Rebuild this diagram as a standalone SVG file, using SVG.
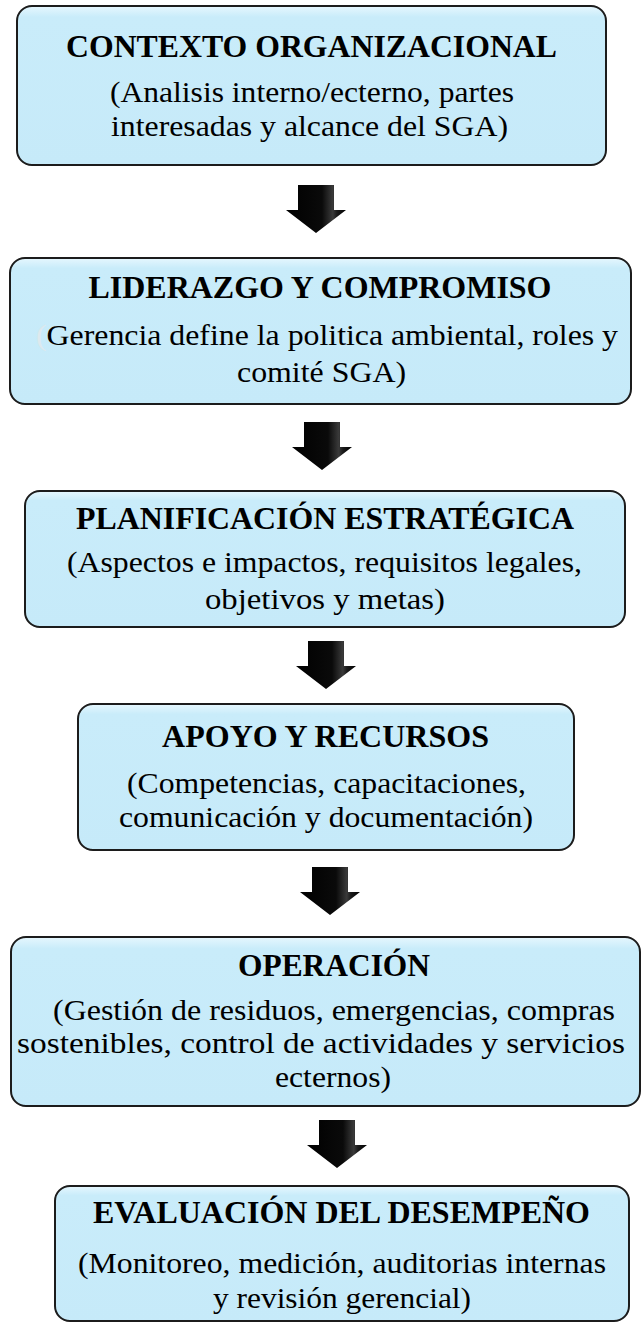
<svg xmlns="http://www.w3.org/2000/svg" width="642" height="1328" viewBox="0 0 642 1328">
<defs>
<linearGradient id="boxfill" x1="0" y1="0" x2="0" y2="1">
<stop offset="0" stop-color="#e6f7fe"/>
<stop offset="0.07" stop-color="#c9ecfa"/>
<stop offset="1" stop-color="#c6eaf9"/>
</linearGradient>
<linearGradient id="arrowfill" x1="0" y1="0" x2="1" y2="0">
<stop offset="0" stop-color="#000"/>
<stop offset="0.6" stop-color="#0a0a0a"/>
<stop offset="0.78" stop-color="#3a3a3a"/>
<stop offset="0.85" stop-color="#1a1a1a"/>
<stop offset="1" stop-color="#000"/>
</linearGradient>
<path id="arrow" d="M -18 0 H 18 V 25 H 30 L 0 48 L -30 25 H -18 Z"/>
</defs>
<style>
.box { fill: url(#boxfill); stroke: #1c1c1c; stroke-width: 2; }
.t { font-family: "Liberation Serif", "Times New Roman", serif; font-weight: bold; font-size: 31px; text-anchor: middle; fill: #000; }
.b { font-family: "Liberation Serif", "Times New Roman", serif; font-size: 30px; text-anchor: middle; fill: #000; }
.arr { fill: url(#arrowfill); }
</style>
<rect width="642" height="1328" fill="#fff"/>

<g id="connectors">
<use href="#arrow" class="arr" transform="translate(316 185)"/>
<use href="#arrow" class="arr" transform="translate(322 422)"/>
<use href="#arrow" class="arr" transform="translate(326 641)"/>
<use href="#arrow" class="arr" transform="translate(330 867)"/>
<use href="#arrow" class="arr" transform="translate(337 1120)"/>
</g>

<g id="contexto">
<rect class="box" x="17" y="6" width="589" height="159" rx="15"/>
<text class="t" x="311.5" y="57" textLength="491" lengthAdjust="spacingAndGlyphs">CONTEXTO ORGANIZACIONAL</text>
<text class="b" x="312" y="102" textLength="404" lengthAdjust="spacingAndGlyphs">(Analisis interno/ecterno, partes</text>
<text class="b" x="309.5" y="136" textLength="397" lengthAdjust="spacingAndGlyphs">interesadas y alcance del SGA)</text>
</g>

<g id="liderazgo">
<rect class="box" x="10" y="258" width="621" height="146" rx="15"/>
<text class="t" x="320" y="298" textLength="463" lengthAdjust="spacingAndGlyphs">LIDERAZGO Y COMPROMISO</text>
<text class="b" x="327" y="345" textLength="582" lengthAdjust="spacingAndGlyphs"><tspan fill="#dde9ee">(</tspan>Gerencia define la politica ambiental, roles y</text>
<text class="b" x="321.5" y="382" textLength="169" lengthAdjust="spacingAndGlyphs">comité SGA)</text>
</g>

<g id="planificacion">
<rect class="box" x="25" y="491" width="600" height="136" rx="15"/>
<text class="t" x="325" y="529" textLength="498" lengthAdjust="spacingAndGlyphs">PLANIFICACIÓN ESTRATÉGICA</text>
<text class="b" x="324.5" y="572" textLength="515" lengthAdjust="spacingAndGlyphs">(Aspectos e impactos, requisitos legales,</text>
<text class="b" x="325" y="609" textLength="240" lengthAdjust="spacingAndGlyphs">objetivos y metas)</text>
</g>

<g id="apoyo">
<rect class="box" x="78" y="704" width="496" height="146" rx="15"/>
<text class="t" x="325.5" y="747" textLength="327" lengthAdjust="spacingAndGlyphs">APOYO Y RECURSOS</text>
<text class="b" x="326.5" y="793" textLength="399" lengthAdjust="spacingAndGlyphs">(Competencias, capacitaciones,</text>
<text class="b" x="326" y="827" textLength="414" lengthAdjust="spacingAndGlyphs">comunicación y documentación)</text>
</g>

<g id="operacion">
<rect class="box" x="11" y="937" width="629" height="169" rx="15"/>
<text class="t" x="334" y="976" textLength="192" lengthAdjust="spacingAndGlyphs">OPERACIÓN</text>
<text class="b" x="334" y="1020" textLength="562" lengthAdjust="spacingAndGlyphs">(Gestión de residuos, emergencias, compras</text>
<text class="b" x="321" y="1053" textLength="608" lengthAdjust="spacingAndGlyphs">sostenibles, control de actividades y servicios</text>
<text class="b" x="333" y="1087" textLength="116" lengthAdjust="spacingAndGlyphs">ecternos)</text>
</g>

<g id="evaluacion">
<rect class="box" x="55" y="1186" width="574" height="135" rx="15"/>
<text class="t" x="341.5" y="1223" textLength="497" lengthAdjust="spacingAndGlyphs">EVALUACIÓN DEL DESEMPEÑO</text>
<text class="b" x="342" y="1273" textLength="528" lengthAdjust="spacingAndGlyphs">(Monitoreo, medición, auditorias internas</text>
<text class="b" x="342" y="1308" textLength="258" lengthAdjust="spacingAndGlyphs">y revisión gerencial)</text>
</g>
</svg>
